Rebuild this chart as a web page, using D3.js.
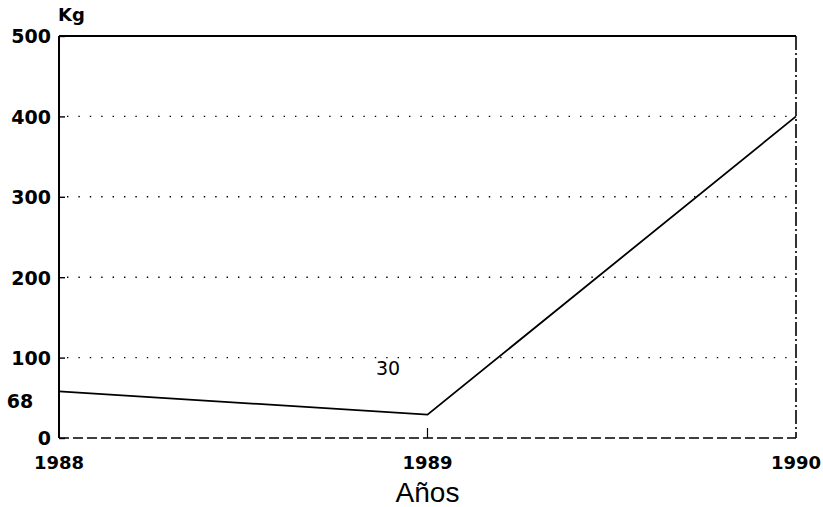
<!DOCTYPE html>
<html>
<head>
<meta charset="utf-8">
<script src="https://cdn.jsdelivr.net/npm/d3@7"></script>
<style>
  body { margin: 0; background: #fff; }
  text { font-family: "DejaVu Sans", sans-serif; fill: #000; }
</style>
</head>
<body>
<script>
var years = [1988, 1989, 1990];
var kg = [58, 29, 400];
var pointLabels = ["68", "30", ""];
var yTicks = [0, 100, 200, 300, 400, 500];

var w = 823, h = 507;
var margin = {top: 36, right: 27, bottom: 69, left: 59};

var svg = d3.select("body").append("svg")
    .attr("width", w)
    .attr("height", h);

var x = d3.scaleLinear().domain([1988, 1990]).range([margin.left, w - margin.right]);
var y = d3.scaleLinear().domain([0, 500]).range([h - margin.bottom, margin.top]);

// dotted grid lines
svg.selectAll("line.grid")
    .data(yTicks.filter(function(d){ return d > 0 && d < 500; }))
    .enter().append("line")
    .attr("class", "grid")
    .attr("x1", x(1988) + 8).attr("x2", x(1990))
    .attr("y1", function(d){ return y(d); })
    .attr("y2", function(d){ return y(d); })
    .attr("stroke", "#000")
    .attr("stroke-width", 1.4)
    .attr("stroke-dasharray", "1.4,10");

// frame
svg.append("line")
    .attr("x1", x(1988)).attr("x2", x(1990))
    .attr("y1", y(500)).attr("y2", y(500))
    .attr("stroke", "#000").attr("stroke-width", 2);
svg.append("line")
    .attr("x1", x(1988)).attr("x2", x(1988))
    .attr("y1", y(500)).attr("y2", y(0))
    .attr("stroke", "#000").attr("stroke-width", 2);
svg.append("line")
    .attr("x1", x(1990)).attr("x2", x(1990))
    .attr("y1", y(500)).attr("y2", y(0))
    .attr("stroke", "#000").attr("stroke-width", 1.6)
    .attr("stroke-dasharray", "14,3,2,3");
svg.append("line")
    .attr("x1", x(1988)).attr("x2", x(1990))
    .attr("y1", y(0)).attr("y2", y(0))
    .attr("stroke", "#000").attr("stroke-width", 1.6)
    .attr("stroke-dasharray", "10,4");

// y axis ticks (inside) and labels
var yAxis = d3.axisLeft(y).tickValues(yTicks).tickSize(-6).tickPadding(8);
var gy = svg.append("g")
    .attr("transform", "translate(" + x(1988) + ",0)")
    .call(yAxis);
gy.select(".domain").remove();
gy.selectAll("line").attr("stroke-width", 1.4);
gy.selectAll("text")
    .style("font-family", "'DejaVu Sans', sans-serif")
    .style("font-size", "19px")
    .style("font-weight", "bold")
    .attr("dy", "0.36em");

// tick mark at 1989
svg.append("line")
    .attr("x1", x(1989)).attr("x2", x(1989))
    .attr("y1", y(0) - 10).attr("y2", y(0))
    .attr("stroke", "#000").attr("stroke-width", 1.2);

// x labels
svg.selectAll("text.year")
    .data(years)
    .enter().append("text")
    .attr("class", "year")
    .attr("x", function(d){ return x(d); })
    .attr("y", 469)
    .attr("text-anchor", "middle")
    .style("font-size", "18px")
    .style("font-weight", "bold")
    .text(function(d){ return d; });

// data line
var line = d3.line()
    .x(function(d, i){ return x(years[i]); })
    .y(function(d){ return y(d); });
svg.append("path")
    .datum(kg)
    .attr("d", line)
    .attr("fill", "none")
    .attr("stroke", "#000")
    .attr("stroke-width", 1.8);

// point labels
svg.append("text")
    .attr("x", 20).attr("y", 408)
    .attr("text-anchor", "middle")
    .style("font-size", "19px")
    .style("font-weight", "bold")
    .text(pointLabels[0]);
svg.append("text")
    .attr("x", 388).attr("y", 375)
    .attr("text-anchor", "middle")
    .style("font-size", "19px")
    .text(pointLabels[1]);

// titles
svg.append("text")
    .attr("x", 58).attr("y", 21)
    .style("font-size", "18px")
    .style("font-weight", "bold")
    .text("Kg");
svg.append("text")
    .attr("x", x(1989)).attr("y", 502)
    .attr("text-anchor", "middle")
    .style("font-family", "'Liberation Sans', Arial, sans-serif")
    .style("font-size", "28px")
    .text("Años");
</script>
</body>
</html>
